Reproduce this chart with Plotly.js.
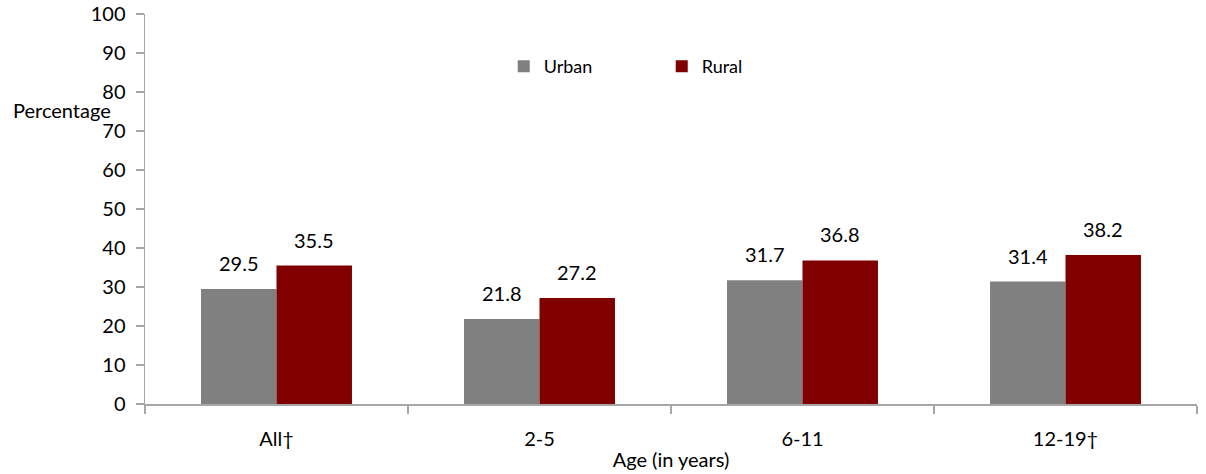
<!DOCTYPE html>
<html><head><meta charset="utf-8">
<script src="https://cdn.plot.ly/plotly-3.0.1.min.js"></script>
<style>html,body{margin:0;padding:0;background:#fff}#chart{width:1206px;height:474px}</style>
</head><body><div id="chart"></div>
<script>
const categories = ["All†", "2-5", "6-11", "12-19†"];
const urban = [29.5, 21.8, 31.7, 31.4];
const rural = [35.5, 27.2, 36.8, 38.2];
const seriesNames = ["Urban", "Rural"];

const font = "Lato, 'Open Sans', sans-serif";
const plotW = 1206 - 145 - 9;
const bargap = 0.426;
const barW = plotW / categories.length * (1 - bargap) / 2;

const traces = [
  {type:'bar', name:seriesNames[0], x:categories, y:urban, marker:{color:'#808080'}},
  {type:'bar', name:seriesNames[1], x:categories, y:rural, marker:{color:'#800000'}}
];
const labelAnn = [];
[[urban, -1], [rural, 1]].forEach(([vals, side]) => {
  vals.forEach((v, i) => labelAnn.push({
    xref:'x', yref:'y', x:categories[i], y:v, xshift:side*barW/2, yshift:12,
    text:v.toFixed(1), showarrow:false, xanchor:'center', yanchor:'bottom',
    font:{family:font, size:20, color:'#000'}
  }));
});
const layout = {
  width:1206, height:474,
  margin:{l:145, r:9, t:14, b:70, pad:0},
  paper_bgcolor:'#fff', plot_bgcolor:'#fff',
  font:{family:font, size:20, color:'#000'},
  barmode:'group', bargap:bargap, bargroupgap:0,
  showlegend:true,
  legend:{orientation:'h', x:0.341, y:0.865, xanchor:'left', yanchor:'middle',
    font:{family:font, size:18, color:'#000'}, itemwidth:30, traceorder:'normal',
    entrywidth:113, entrywidthmode:'pixels'},
  xaxis:{type:'category', showline:true, linecolor:'#a6a6a6', linewidth:1.5,
    ticks:'outside', tickson:'boundaries', ticklen:8, tickcolor:'#a6a6a6', tickwidth:1.5,
    ticklabelstandoff:16,
    showgrid:false, zeroline:false, tickfont:{family:font, size:20},
    title:{text:'Age (in years)', font:{family:font, size:20}, standoff:4}},
  yaxis:{range:[0,100], dtick:10, showline:true, linecolor:'#a6a6a6', linewidth:1.5,
    ticks:'outside', ticklen:8, tickcolor:'#a6a6a6', tickwidth:1.5,
    ticklabelstandoff:6,
    showgrid:false, zeroline:false, tickfont:{family:font, size:20}},
  annotations:[{text:'Percentage', xref:'paper', yref:'paper', x:-0.127, y:0.755,
    xanchor:'left', yanchor:'middle', showarrow:false, font:{family:font, size:20}}].concat(labelAnn)
};
Plotly.newPlot('chart', traces, layout, {displayModeBar:false, staticPlot:true});
</script></body></html>
